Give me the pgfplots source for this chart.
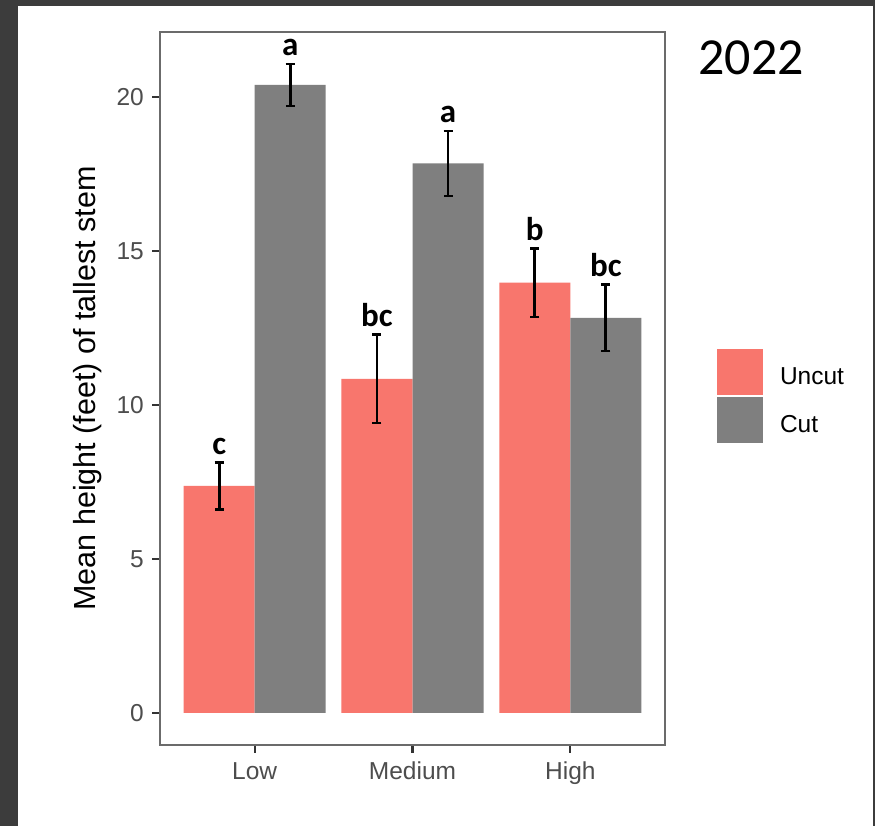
\documentclass[border=0pt]{standalone}
\usepackage{pgfplots}
\pgfplotsset{compat=1.18}
\usepackage{pgfplotstable}
\usepackage{fontspec}
\setmainfont{Liberation Sans}
\newfontfamily\calfont{Carlito}

\definecolor{uncut}{HTML}{F8766D}
\definecolor{cut}{HTML}{7F7F7F}
\definecolor{frame}{HTML}{3C3C3C}
\definecolor{ticktext}{HTML}{4D4D4D}

% group  mean   se
\pgfplotstableread{
x  y      e
1  7.37   0.76
2  10.85  1.43
3  13.97  1.11
}\uncutdata
\pgfplotstableread{
x  y      e
1  20.39  0.68
2  17.84  1.06
3  12.83  1.08
}\cutdata

\newcommand{\lettersize}{\calfont\bfseries\fontsize{33bp}{36bp}\selectfont}

\pgfplotsset{
  sebars/.style={
    error bars/y dir=both, error bars/y explicit,
    error bars/error bar style={line width=2.8bp, solid, draw=black},
    error bars/error mark options={rotate=90, mark size=4.5bp, line width=2.6bp, solid, draw=black},
  }
}

\begin{document}
\begin{tikzpicture}[x=1bp,y=1bp]
  % page background
  \fill[frame] (0,0) rectangle (875,826);
  \fill[white] (18,0) rectangle (873,820);

  \begin{axis}[
    at={(160bp,81bp)}, anchor=south west,
    scale only axis, width=505bp, height=713bp,
    xmin=0.4, xmax=3.6, ymin=-1.04, ymax=22.11,
    xtick={1,2,3}, xticklabels={Low,Medium,High},
    ytick={0,5,10,15,20},
    tick pos=left, tick align=outside,
    major tick length=8bp,
    every tick/.style={line width=2.2bp, draw=black!80},
    axis line style={draw=black!58, line width=1.2bp},
    /pgf/number format/assume math mode=true,
    ticklabel style={font=\fontsize{24.5bp}{29bp}\selectfont, text=ticktext},
    xticklabel style={inner sep=0pt, yshift=-9bp},
    yticklabel style={inner sep=0pt, xshift=-8bp},
    ylabel={Mean height (feet) of tallest stem},
    every axis y label/.style={at={(axis description cs:-0.1287,0.5)},
      rotate=90, anchor=base, font=\fontsize{30.5bp}{34bp}\selectfont},
    legend style={at={(axis description cs:1.103,0.5554)}, anchor=north west,
      draw=none, fill=none, inner sep=0pt, outer sep=0pt,
      nodes={inner sep=0pt}, row sep=2.5bp, column sep=17bp,
      font=\fontsize{24.5bp}{29bp}\selectfont},
    legend cell align=left,
    legend image code/.code={\fill[#1] (0bp,-18.5bp) rectangle (46bp,27.5bp);},
  ]
    % dodged bars: each series sits 0.225 left/right of its group
    \addplot[ybar, bar width=0.45, bar shift=0pt, fill=uncut, draw=none, sebars]
      table[x expr=\thisrow{x}-0.225, y=y, y error=e] {\uncutdata};
    \addlegendentry{Uncut}
    \addplot[ybar, bar width=0.45, bar shift=0pt, fill=cut, draw=none, sebars]
      table[x expr=\thisrow{x}+0.225, y=y, y error=e] {\cutdata};
    \addlegendentry{Cut}

    % significance letters above the error bars
    \node[anchor=base, inner sep=0pt, yshift=8.5bp, font=\lettersize] at (axis cs:0.775,8.13) {c};
    \node[anchor=base, inner sep=0pt, yshift=8.5bp, font=\lettersize] at (axis cs:1.225,21.07) {a};
    \node[anchor=base, inner sep=0pt, yshift=8.5bp, font=\lettersize] at (axis cs:1.775,12.28) {bc};
    \node[anchor=base, inner sep=0pt, yshift=8.5bp, font=\lettersize] at (axis cs:2.225,18.90) {a};
    \node[anchor=base, inner sep=0pt, yshift=8.5bp, font=\lettersize] at (axis cs:2.775,15.08) {b};
    \node[anchor=base, inner sep=0pt, yshift=8.5bp, font=\lettersize] at (axis cs:3.225,13.91) {bc};
  \end{axis}

  % year label
  \node[font=\calfont\fontsize{52bp}{56bp}\selectfont, anchor=center] at (751,768) {2022};
\end{tikzpicture}
\end{document}
